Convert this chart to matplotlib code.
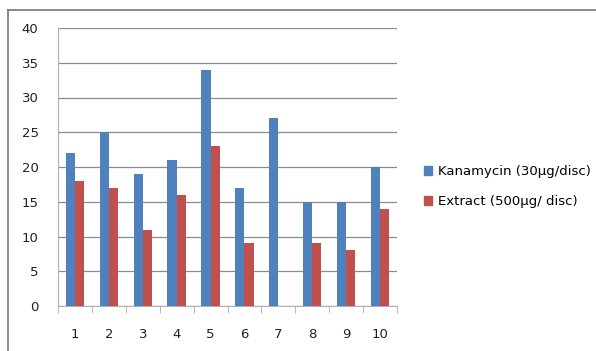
import matplotlib
matplotlib.use('Agg')
import matplotlib.pyplot as plt
import numpy as np
from matplotlib.lines import Line2D
from matplotlib.patches import Patch

categories = ['1', '2', '3', '4', '5', '6', '7', '8', '9', '10']
kanamycin = [22, 25, 19, 21, 34, 17, 27, 15, 15, 20]
extract = [18, 17, 11, 16, 23, 9, 0, 9, 8, 14]
series_names = ['Kanamycin (30\u00b5g/disc)', 'Extract (500\u00b5g/ disc)']
colors = ['#4F81BD', '#C0504D']

W, H = 596, 351
fig = plt.figure(figsize=(W/100, H/100), dpi=100)
fig.patch.set_facecolor('white')

# outer chart frame: only the top and left edges are inside the picture
fig.lines.append(Line2D([8/W, 1.0], [1 - 9.5/H, 1 - 9.5/H], transform=fig.transFigure,
                        color='#808080', lw=1.3))
fig.lines.append(Line2D([8/W, 8/W], [0.0, 1 - 9.5/H], transform=fig.transFigure,
                        color='#808080', lw=1.3))

ax = fig.add_axes([58/W, 1 - 306/H, (397-58)/W, (306-28)/H])
x = np.arange(len(categories))
bw = 0.27
ax.bar(x - bw/2, kanamycin, bw, color=colors[0], zorder=3)
ax.bar(x + bw/2, extract, bw, color=colors[1], zorder=3)

ax.set_xlim(-0.5, len(categories) - 0.5)
ax.set_ylim(0, 40)
ax.set_yticks(range(0, 41, 5))
ax.yaxis.grid(True, color='#8c8c8c', lw=0.9, zorder=0)
for s in ['top', 'right']:
    ax.spines[s].set_visible(False)
ax.spines['left'].set_color('#b0b0b0')
ax.spines['bottom'].set_color('#b0b0b0')
ax.tick_params(axis='y', length=0, pad=14, labelsize=9.5, colors='#222222')
ax.set_xticks(x)
ax.set_xticklabels(categories)
ax.tick_params(axis='x', length=0, pad=16, labelsize=9.5, colors='#222222')
ax.set_xticks(np.arange(-0.5, len(categories) + 0.5, 1), minor=True)
ax.tick_params(axis='x', which='minor', length=5, color='#b0b0b0')

handles = [Patch(color=c) for c in colors]
fig.legend(handles, series_names, loc='upper left', bbox_to_anchor=(412/W, 1 - 153/H),
           frameon=False, fontsize=9.5, handlelength=0.65, handleheight=0.65,
           handletextpad=0.4, labelspacing=1.3)

fig.savefig('out.png', dpi=100)
